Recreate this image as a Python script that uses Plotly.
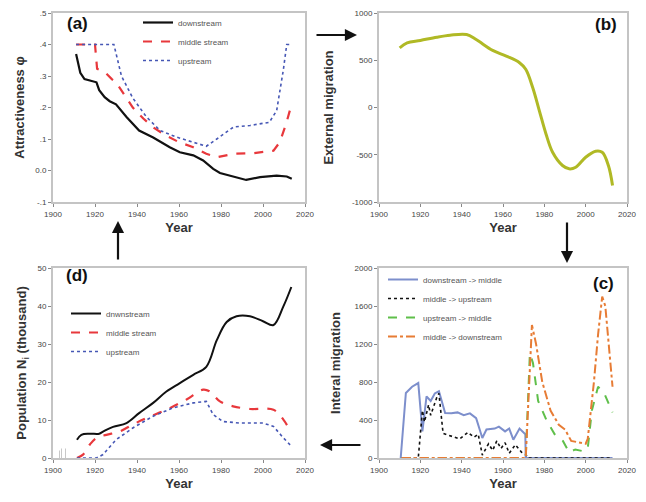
import plotly.graph_objects as go

# ---------------- data ----------------
# (a) Attractiveness
a_down_year = [1911, 1913, 1915, 1918, 1920.7, 1922, 1924.6, 1927, 1930, 1935, 1941, 1947.7, 1955.6, 1960.4, 1966.8, 1971.5, 1976.3, 1979.5, 1985.8, 1992, 1998.6, 2006.5, 2011.3, 2013.7]
a_down_val = [0.37, 0.31, 0.29, 0.285, 0.28, 0.255, 0.233, 0.22, 0.21, 0.17, 0.127, 0.105, 0.074, 0.058, 0.048, 0.032, 0.005, -0.008, -0.019, -0.03, -0.021, -0.016, -0.019, -0.026]
a_mid_year = [1911, 1915, 1920, 1921, 1925, 1928, 1930, 1934, 1938, 1943, 1947.7, 1954, 1960, 1966.8, 1973, 1978, 1986, 1995.4, 2005, 2008, 2011, 2013.7]
a_mid_val = [0.40, 0.40, 0.40, 0.323, 0.31, 0.29, 0.28, 0.24, 0.20, 0.165, 0.137, 0.11, 0.09, 0.074, 0.053, 0.042, 0.053, 0.055, 0.063, 0.09, 0.148, 0.212]
a_up_year = [1911, 1920, 1929, 1932.6, 1938, 1944.5, 1951, 1958.8, 1966.8, 1973, 1978, 1986, 1993.8, 2003, 2006.5, 2009.7, 2011.3, 2013]
a_up_val = [0.40, 0.40, 0.40, 0.30, 0.23, 0.17, 0.127, 0.106, 0.09, 0.077, 0.10, 0.138, 0.143, 0.153, 0.19, 0.32, 0.40, 0.40]

# (b) External migration
b_year = [1910, 1913.6, 1920, 1928, 1934.4, 1942.4, 1947, 1955, 1961.6, 1968, 1971, 1974.4, 1977.6, 1980.8, 1984, 1988.8, 1992, 1995.2, 2000, 2004.8, 2008, 2011, 2013]
b_val = [632, 684, 709, 744, 765, 772, 719, 604, 544, 474, 404, 210, -35, -280, -474, -614, -649, -632, -526, -463, -474, -614, -825]

# (c) Internal migration
c_dm_year = [1910.5, 1913, 1916, 1919, 1921, 1923, 1925, 1927, 1929, 1932, 1935, 1938, 1941, 1944, 1947, 1950, 1952, 1956, 1958, 1961, 1963, 1965, 1968, 1970.8, 1971, 2013]
c_dm_val = [0, 684, 750, 789, 281, 649, 600, 680, 702, 474, 470, 480, 450, 470, 420, 211, 300, 310, 330, 280, 310, 193, 310, 250, 0, 0]
c_mu_year = [1911, 1919, 1921, 1922, 1924, 1925, 1928, 1929, 1931, 1935, 1939, 1943, 1946, 1948, 1950, 1953, 1955, 1957, 1959, 1961, 1963, 1966, 1969, 1971, 1972, 2013]
c_mu_val = [0, 0, 500, 380, 560, 450, 640, 680, 260, 230, 200, 270, 220, 250, 30, 150, 80, 180, 100, 160, 50, 140, 60, 40, 0, 0]
c_um_year = [1911, 1971, 1973, 1974.5, 1977, 1981, 1985, 1989, 1992, 1995, 1999, 2001, 2003, 2006, 2009, 2013]
c_um_val = [0, 0, 1100, 1000, 600, 400, 250, 180, 60, 90, 70, 100, 500, 750, 680, 480]
c_md_year = [1911, 1971, 1974, 1976, 1979, 1983, 1987, 1990, 1993, 1996, 2000, 2001, 2004, 2006, 2008, 2009.5, 2011, 2013]
c_md_val = [0, 0, 1400, 1200, 800, 500, 350, 300, 180, 170, 150, 200, 800, 1300, 1700, 1600, 1200, 750]

# (d) Population
d_down_year = [1911.4, 1913.5, 1917.5, 1922, 1924, 1928.6, 1935, 1941, 1947.7, 1954, 1960.4, 1966.8, 1973, 1978, 1982.7, 1987.4, 1993.8, 2000, 2005, 2009.7, 2013.5]
d_down_val = [4.8, 6.1, 6.4, 6.4, 7.0, 8.2, 9.2, 11.8, 14.5, 17.5, 19.7, 21.9, 24.0, 31.0, 35.8, 37.3, 37.3, 36.0, 35.0, 39.9, 45.0]
d_mid_year = [1911.4, 1914.3, 1917.5, 1920.7, 1925.4, 1931.8, 1938, 1944.5, 1954, 1963.6, 1971.5, 1974.7, 1979.5, 1985.8, 1993.8, 2005, 2009.7, 2013.5]
d_mid_val = [0, 0.9, 3.5, 5.3, 6.1, 7.0, 8.8, 10.5, 12.7, 15.4, 18.0, 17.5, 14.9, 13.6, 12.9, 12.7, 10.1, 6.6]
d_up_year = [1911.4, 1920.7, 1923.8, 1930, 1938, 1947.7, 1957.2, 1966.8, 1973, 1976.3, 1981, 1989, 2000, 2005, 2009.7, 2013.5]
d_up_val = [0, 0, 0.9, 4.8, 7.9, 11.0, 13.2, 14.5, 14.9, 11.4, 9.6, 9.2, 9.2, 8.3, 5.3, 3.1]
d_bar_year = [1903, 1904, 1906]
d_bar_val = [2.0, 2.5, 2.5]

x_ticks = [1900, 1920, 1940, 1960, 1980, 2000, 2020]
a_ticks = [-0.1, 0.0, 0.1, 0.2, 0.3, 0.4, 0.5]
a_ticktext = ["-.1", "0.0", ".1", ".2", ".3", ".4", ".5"]
b_ticks = [-1000, -500, 0, 500, 1000]
c_ticks = [0, 400, 800, 1200, 1600, 2000]
d_ticks = [0, 10, 20, 30, 40, 50]

# ---------------- colours ----------------
BLACK = "#111111"
RED = "#e8383c"
BLUE = "#4657b5"
YG = "#b0b925"
C_BLUE = "#7d8fcc"
C_GREEN = "#5fbf4a"
C_ORANGE = "#e77c35"

fig = go.Figure()

# (a)
fig.add_trace(go.Scatter(x=a_down_year, y=a_down_val, mode="lines", name="downstream",
                         line=dict(color=BLACK, width=2.2), xaxis="x", yaxis="y", legend="legend"))
fig.add_trace(go.Scatter(x=a_mid_year, y=a_mid_val, mode="lines", name="middle stream",
                         line=dict(color=RED, width=2.2, dash="dash"), xaxis="x", yaxis="y", legend="legend"))
fig.add_trace(go.Scatter(x=a_up_year, y=a_up_val, mode="lines", name="upstream",
                         line=dict(color=BLUE, width=1.6, dash="dot"), xaxis="x", yaxis="y", legend="legend"))
# (b)
fig.add_trace(go.Scatter(x=b_year, y=b_val, mode="lines", line=dict(color=YG, width=3, shape="spline"),
                         showlegend=False, xaxis="x2", yaxis="y2"))
# (d)
fig.add_trace(go.Bar(x=d_bar_year, y=d_bar_val, width=0.25, marker=dict(color="#c8c8c8", line=dict(width=0)),
                     showlegend=False, xaxis="x3", yaxis="y3"))
fig.add_trace(go.Scatter(x=d_down_year, y=d_down_val, mode="lines", name="dnwnstream",
                         line=dict(color=BLACK, width=2, shape="spline"), xaxis="x3", yaxis="y3", legend="legend2"))
fig.add_trace(go.Scatter(x=d_mid_year, y=d_mid_val, mode="lines", name="middle stream",
                         line=dict(color=RED, width=2.2, dash="dash", shape="spline"), xaxis="x3", yaxis="y3", legend="legend2"))
fig.add_trace(go.Scatter(x=d_up_year, y=d_up_val, mode="lines", name="upstream",
                         line=dict(color=BLUE, width=1.6, dash="dot"), xaxis="x3", yaxis="y3", legend="legend2"))
# (c)
fig.add_trace(go.Scatter(x=c_dm_year, y=c_dm_val, mode="lines", name="downstream -> middle",
                         line=dict(color=C_BLUE, width=2), xaxis="x4", yaxis="y4", legend="legend3"))
fig.add_trace(go.Scatter(x=c_mu_year, y=c_mu_val, mode="lines", name="middle -> upstream",
                         line=dict(color=BLACK, width=1.6, dash="dot"), xaxis="x4", yaxis="y4", legend="legend3"))
fig.add_trace(go.Scatter(x=c_um_year, y=c_um_val, mode="lines", name="upstream -> middle",
                         line=dict(color=C_GREEN, width=2, dash="dash"), xaxis="x4", yaxis="y4", legend="legend3"))
fig.add_trace(go.Scatter(x=c_md_year, y=c_md_val, mode="lines", name="middle -> downstream",
                         line=dict(color=C_ORANGE, width=2, dash="dashdot"), xaxis="x4", yaxis="y4", legend="legend3"))

W, H = 646, 502
def px(x):
    return x / W
def py(y):
    return 1 - y / H

FRAME = "#c4c4c4"
tickfont = dict(family="Liberation Sans, Arial", size=8, color="#444444")
titlefont = dict(family="Liberation Sans, Arial", size=13, color="#333333", weight="bold")

def xax(domain, anchor):
    return dict(domain=domain, anchor=anchor, range=[1900, 2020], tickvals=x_ticks, automargin=False,
                showgrid=False, zeroline=False, showline=True, mirror=True, linecolor=FRAME, linewidth=2,
                ticks="outside", ticklen=3, tickcolor="#888888", tickfont=tickfont,
                title=dict(text="<b>Year</b>", font=titlefont, standoff=5))

def yax(domain, anchor, rng, tv, tt, title, standoff=8):
    return dict(domain=domain, anchor=anchor, range=rng, tickvals=tv, ticktext=tt, automargin=False,
                showgrid=False, zeroline=False, showline=True, mirror=True, linecolor=FRAME, linewidth=2,
                ticks="outside", ticklen=3, tickcolor="#888888", tickfont=tickfont,
                title=dict(text=title, font=titlefont, standoff=standoff))

top = [py(202), py(13)]
bot = [py(458), py(268)]
left = [px(53), px(305)]
right = [px(379), px(627)]

legfont = dict(family="Liberation Sans, Arial", size=8, color="#555555")

fig.update_layout(
    width=W, height=H, margin=dict(l=0, r=0, t=0, b=0, autoexpand=False),
    paper_bgcolor="white", plot_bgcolor="white",
    barmode="overlay",
    xaxis=xax(left, "y"),
    yaxis=yax(top, "x", [-0.1, 0.5], a_ticks, a_ticktext, "<b>Attractiveness φ</b>"),
    xaxis2=xax(right, "y2"),
    yaxis2=yax(top, "x2", [-1000, 1000], b_ticks, [str(v) for v in b_ticks], "<b>External migration</b>", 15),
    xaxis3=xax(left, "y3"),
    yaxis3=yax(bot, "x3", [0, 50], d_ticks, [str(v) for v in d_ticks], "<b>Population N<sub>i</sub> (thousand)</b>"),
    xaxis4=xax(right, "y4"),
    yaxis4=yax(bot, "x4", [0, 2000], c_ticks, [str(v) for v in c_ticks], "<b>Interal migration</b>", 11),
    legend=dict(x=px(138), y=py(8), xanchor="left", yanchor="top", bgcolor="rgba(0,0,0,0)",
                font=legfont, tracegroupgap=0),
    legend2=dict(x=px(66), y=py(299), xanchor="left", yanchor="top", bgcolor="rgba(0,0,0,0)",
                 font=legfont, tracegroupgap=0),
    legend3=dict(x=px(383), y=py(265), xanchor="left", yanchor="top", bgcolor="rgba(0,0,0,0)",
                 font=legfont, tracegroupgap=0),
    showlegend=True,
)

panel_font = dict(family="Liberation Sans, Arial", size=17, color="#111111")
for txt, x, y in [("(a)", 77, 24), ("(b)", 606, 25), ("(c)", 603, 283), ("(d)", 77, 275)]:
    fig.add_annotation(text="<b>" + txt + "</b>", x=px(x), y=py(y), xref="paper", yref="paper",
                       xanchor="center", yanchor="middle", showarrow=False, font=panel_font)

# connecting arrows
arrow = dict(xref="paper", yref="paper", showarrow=True, arrowhead=2, arrowsize=1.1,
             arrowwidth=2.2, arrowcolor="#111111", text="")
fig.add_annotation(x=px(357), y=py(35), ax=-42, ay=0, **arrow)
fig.add_annotation(x=px(567), y=py(263), ax=0, ay=-42, **arrow)
fig.add_annotation(x=px(320), y=py(445), ax=42, ay=0, **arrow)
fig.add_annotation(x=px(118), y=py(221), ax=0, ay=40, **arrow)

fig.write_html("out.html", config={"displayModeBar": False},
               post_script="document.body.style.margin='0px';")
